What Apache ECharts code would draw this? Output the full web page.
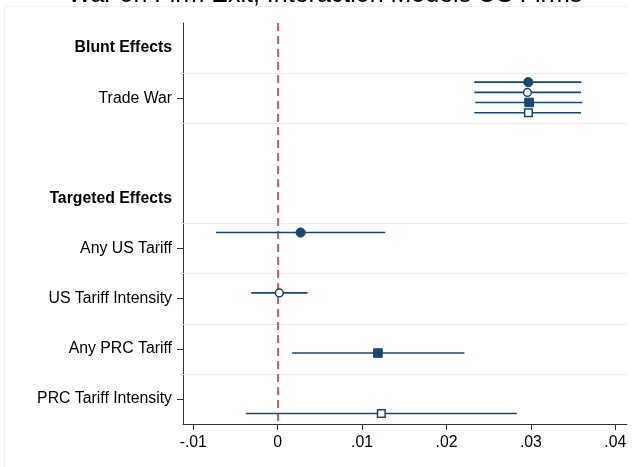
<!DOCTYPE html>
<html>
<head>
<meta charset="utf-8">
<script src="https://cdn.jsdelivr.net/npm/echarts@6/dist/echarts.min.js"></script>
<style>
html,body{margin:0;padding:0;background:#fff;}
#chart{width:636px;height:467px;}
</style>
</head>
<body>
<div id="chart"></div>
<script>
// ---- data ----
const titleText = 'War on Firm Exit, Interaction Models US Firms';
const categories = ['Blunt Effects', 'Trade War', '', 'Targeted Effects', 'Any US Tariff', 'US Tariff Intensity', 'Any PRC Tariff', 'PRC Tariff Intensity'];
const headingRows = [0, 3];
const blankRows = [2];
const gridRows = [0.5, 1.5, 3.5, 4.5, 5.5, 6.5];
const xTicks = [-0.01, 0, 0.01, 0.02, 0.03, 0.04];
const refLine = 0;

// model 1: filled circle
const m1Rows = [1, 4];
const m1Est = [0.0297, 0.00272];
const m1Lo = [0.0233, -0.00732];
const m1Hi = [0.03597, 0.01275];
// model 2: hollow circle
const m2Rows = [1, 5];
const m2Est = [0.02959, 0.00019];
const m2Lo = [0.0233, -0.00312];
const m2Hi = [0.03594, 0.00354];
// model 3: filled square
const m3Rows = [1, 6];
const m3Est = [0.02979, 0.01188];
const m3Lo = [0.02342, 0.00172];
const m3Hi = [0.03609, 0.02212];
// model 4: hollow square
const m4Rows = [1, 7];
const m4Est = [0.02971, 0.01228];
const m4Lo = [0.0233, -0.00378];
const m4Hi = [0.03594, 0.02834];

// ---- chart ----
const NAVY = '#1a476f';
const FONT = '"Liberation Sans", Arial, sans-serif';
const FS = 15.8;

function build(rows, est, lo, hi) {
  return rows.map((r, i) => [est[i], lo[i], hi[i], r]);
}

function makeSeries(name, data, offset, shape, filled) {
  return {
    type: 'custom',
    name: name,
    xAxisIndex: 0,
    yAxisIndex: 1,
    z: 5,
    encode: { x: [0, 1, 2], y: 3 },
    data: data,
    renderItem: function (params, api) {
      const y = api.value(3) + offset;
      const pL = api.coord([api.value(1), y]);
      const pH = api.coord([api.value(2), y]);
      const pE = api.coord([api.value(0), y]);
      const children = [{
        type: 'line',
        shape: { x1: pL[0], y1: pL[1], x2: pH[0], y2: pH[1] },
        style: { stroke: NAVY, lineWidth: 1.6 }
      }];
      const st = filled ? { fill: NAVY, stroke: NAVY, lineWidth: 1 } : { fill: '#fff', stroke: NAVY, lineWidth: 1.5 };
      if (shape === 'circle') {
        children.push({ type: 'circle', shape: { cx: pE[0], cy: pE[1], r: filled ? 4.6 : 3.9 }, style: st });
      } else {
        const s = filled ? 8.6 : 7.6;
        children.push({ type: 'rect', shape: { x: pE[0] - s / 2, y: pE[1] - s / 2, width: s, height: s }, style: st });
      }
      return { type: 'group', children: children };
    }
  };
}

const chart = echarts.init(document.getElementById('chart'), null, { renderer: 'canvas' });
chart.setOption({
  animation: false,
  backgroundColor: '#fff',
  textStyle: { fontFamily: FONT },
  graphic: [
    { type: 'line', shape: { x1: 4, y1: 6.5, x2: 627, y2: 6.5 }, style: { stroke: '#edf1f4', lineWidth: 1 }, silent: true },
    { type: 'line', shape: { x1: 4.5, y1: 6, x2: 4.5, y2: 467 }, style: { stroke: '#edf1f4', lineWidth: 1 }, silent: true },
    { type: 'text', x: 325, y: -5, silent: true,
      style: { text: titleText, font: '25px ' + FONT, fill: '#000', align: 'center', verticalAlign: 'middle' } }
  ],
  grid: { left: 183, right: 9, top: 23, bottom: 43, containLabel: false, outerBoundsMode: 'none' },
  xAxis: [{
    type: 'value',
    min: -0.01122,
    max: 0.04139,
    splitLine: { show: false },
    axisLine: { show: true, onZero: false, lineStyle: { color: '#333', width: 1 } },
    axisTick: { show: true, length: 6, lineStyle: { color: '#333', width: 1 }, customValues: xTicks },
    axisLabel: {
      customValues: xTicks,
      margin: 11,
      color: '#000',
      fontSize: FS,
      fontFamily: FONT,
      formatter: function (v) {
        if (Math.abs(v) < 1e-9) return '0';
        const s = Math.abs(v).toFixed(2).replace(/^0/, '');
        return (v < 0 ? '-' : '') + s;
      }
    }
  }],
  yAxis: [{
    type: 'category',
    data: categories,
    inverse: true,
    boundaryGap: true,
    axisLine: { show: true, onZero: false, lineStyle: { color: '#333', width: 1 } },
    axisTick: {
      show: true, length: 6, alignWithLabel: true,
      lineStyle: { color: '#333', width: 1 },
      interval: function (idx) { return headingRows.indexOf(idx) < 0 && blankRows.indexOf(idx) < 0; }
    },
    splitLine: { show: false },
    axisLabel: {
      margin: 11,
      color: '#000',
      fontSize: FS,
      fontFamily: FONT,
      interval: 0,
      formatter: function (v, idx) {
        if (headingRows.indexOf(idx) >= 0) return '{b|' + v + '}';
        return v;
      },
      rich: { b: { fontWeight: 'bold', fontSize: FS, fontFamily: FONT, color: '#000' } }
    }
  }, {
    type: 'value',
    show: false,
    inverse: true,
    min: -0.5,
    max: 7.5,
    axisLine: { onZero: false },
    splitLine: { show: false }
  }],
  series: [
    {
      type: 'line', xAxisIndex: 0, yAxisIndex: 1, data: [], z: 1, silent: true,
      markLine: {
        silent: true, symbol: 'none', animation: false,
        label: { show: false },
        lineStyle: { color: '#e9eef2', type: 'solid', width: 1 },
        data: gridRows.map(v => ({ yAxis: v }))
      }
    },
    {
      type: 'line', xAxisIndex: 0, yAxisIndex: 1, data: [], z: 2, silent: true,
      markLine: {
        silent: true, symbol: 'none', animation: false,
        label: { show: false },
        lineStyle: { color: '#c8284f', type: [8, 5], width: 1.5 },
        data: [{ xAxis: refLine }]
      }
    },
    makeSeries('m1', build(m1Rows, m1Est, m1Lo, m1Hi), -0.32, 'circle', true),
    makeSeries('m2', build(m2Rows, m2Est, m2Lo, m2Hi), -0.115, 'circle', false),
    makeSeries('m3', build(m3Rows, m3Est, m3Lo, m3Hi), 0.085, 'rect', true),
    makeSeries('m4', build(m4Rows, m4Est, m4Lo, m4Hi), 0.29, 'rect', false)
  ]
});
</script>
</body>
</html>
